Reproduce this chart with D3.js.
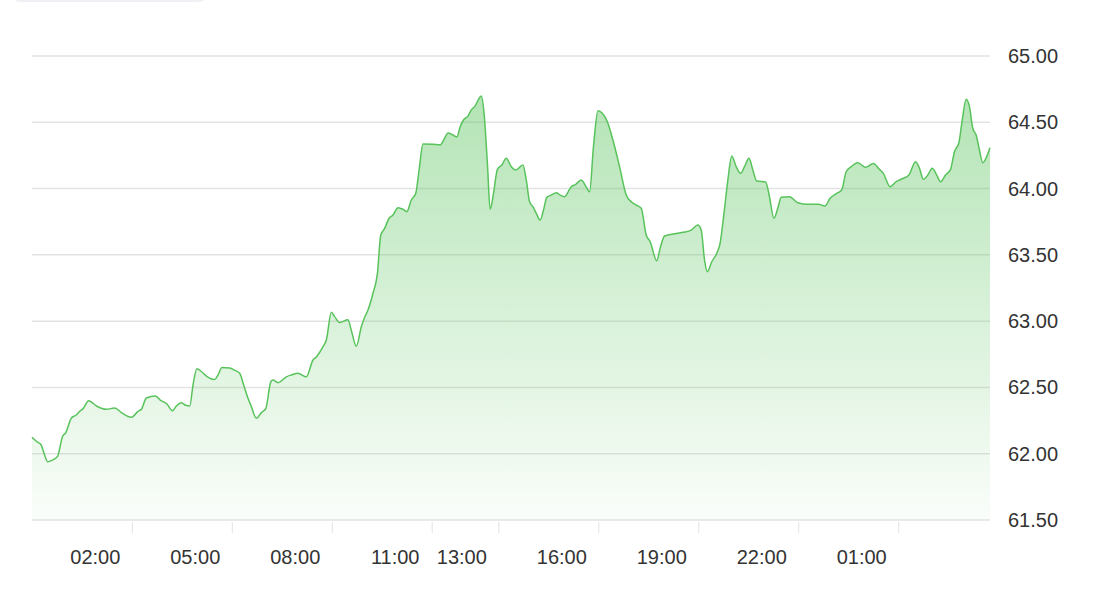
<!DOCTYPE html>
<html>
<head>
<meta charset="utf-8">
<script src="https://cdn.jsdelivr.net/npm/d3@7"></script>
<style>
  body { margin: 0; background: #fff; }
  text { font-family: "Liberation Sans", Arial, Helvetica, sans-serif; fill: #333; }
</style>
</head>
<body>
<div id="chart"></div>
<script>
// price series, times roll over midnight into the next day
const times = [
  "00:06","00:15","00:22","00:28","00:34","00:42","00:52","01:01","01:07","01:17",
  "01:25","01:32","01:38","01:48","02:02","02:20","02:35","02:47","03:05","03:17",
  "03:23","03:32","03:48","03:57","04:09","04:19","04:26","04:35","04:43","04:50",
  "04:56","05:03","05:11","05:20","05:35","05:41","05:48","06:02","06:11","06:20",
  "06:27","06:35","06:41","06:50","06:59","07:07","07:16","07:20","07:29","07:44",
  "07:53","08:05","08:20","08:32","08:38","08:50","08:56","09:05","09:11","09:20",
  "09:35","09:41","09:50","09:59","10:05","10:11","10:20","10:28","10:34","10:41",
  "10:49","10:56","11:05","11:14","11:21","11:29","11:37","11:43","11:50","12:08",
  "12:21","12:29","12:35","12:44","12:51","12:57","13:03","13:11","13:17","13:23",
  "13:35","13:40","13:46","13:51","13:57","14:04","14:12","14:20","14:29","14:37",
  "14:50","14:56","15:02","15:08","15:14","15:21","15:27","15:33","15:41","15:50",
  "15:57","16:05","16:17","16:25","16:35","16:43","16:50","16:57","17:05","17:13",
  "17:22","17:32","17:44","17:56","18:05","18:14","18:23","18:32","18:39","18:51",
  "18:57","19:05","19:20","19:38","19:53","20:05","20:11","20:17","20:22","20:30",
  "20:39","20:45","20:52","20:59","21:06","21:14","21:22","21:29","21:37","21:44",
  "21:51","22:07","22:13","22:22","22:29","22:35","22:50","23:05","23:23","23:42",
  "23:54","00:03","00:15","00:24","00:32","00:41","00:53","01:07","01:21","01:32",
  "01:39","01:51","02:02","02:11","02:25","02:37","02:44","02:51","02:59","03:07",
  "03:15","03:22","03:31","03:40","03:47","03:55","04:01","04:08","04:14","04:20",
  "04:26","04:32","04:38","04:45","04:51"
];
const prices = [
  62.124,62.09,62.07,62.00,61.94,61.95,61.98,62.13,62.16,62.27,
  62.29,62.32,62.34,62.40,62.36,62.335,62.345,62.31,62.275,62.32,
  62.335,62.42,62.435,62.405,62.375,62.325,62.36,62.385,62.365,62.36,
  62.52,62.64,62.62,62.586,62.56,62.594,62.65,62.647,62.63,62.607,
  62.52,62.418,62.355,62.267,62.31,62.34,62.543,62.556,62.536,62.58,
  62.594,62.607,62.58,62.707,62.73,62.807,62.858,63.067,63.034,62.99,
  63.01,62.93,62.81,62.958,63.03,63.084,63.21,63.36,63.65,63.70,
  63.776,63.80,63.856,63.844,63.826,63.914,63.964,64.14,64.336,64.334,
  64.33,64.38,64.42,64.404,64.39,64.467,64.517,64.547,64.593,64.618,
  64.698,64.568,64.19,63.844,63.964,64.145,64.178,64.228,64.165,64.14,
  64.178,64.065,63.90,63.863,63.813,63.763,63.838,63.934,63.951,63.969,
  63.951,63.939,64.014,64.032,64.065,64.019,63.976,64.316,64.587,64.568,
  64.504,64.366,64.165,63.951,63.90,63.876,63.851,63.65,63.60,63.456,
  63.549,63.642,63.657,63.67,63.687,63.725,63.687,63.461,63.373,63.448,
  63.512,63.587,63.813,64.065,64.246,64.165,64.115,64.165,64.228,64.14,
  64.057,64.05,63.959,63.776,63.853,63.934,63.939,63.893,63.881,63.881,
  63.869,63.927,63.964,63.989,64.127,64.165,64.195,64.16,64.19,64.145,
  64.115,64.014,64.052,64.07,64.102,64.203,64.153,64.07,64.102,64.153,
  64.102,64.052,64.102,64.145,64.278,64.346,64.517,64.673,64.618,64.455,
  64.404,64.291,64.195,64.241,64.308
];
const tickLabels = ["02:00","05:00","08:00","11:00","13:00","16:00","19:00","22:00","01:00"];
const yTicks = [61.5, 62.0, 62.5, 63.0, 63.5, 64.0, 64.5, 65.0];

const width = 1104, height = 610;
const margin = { top: 56, right: 114, bottom: 90, left: 32 };
const lineColor = "#58c35b";
const gridColor = "#e3e3e3";

// turn "HH:MM" strings into dates, adding a day each time the clock wraps
function toDates(list) {
  let day = 0, prev = -1;
  return list.map(s => {
    const [h, m] = s.split(":").map(Number);
    const mins = h * 60 + m;
    if (mins < prev) day++;
    prev = mins;
    return new Date(2024, 0, 1 + day, h, m);
  });
}

const dates = toDates(times);
const data = dates.map((d, i) => ({ date: d, value: prices[i] }));
const tickDates = toDates(tickLabels);

const svg = d3.select("#chart")
  .append("svg")
  .attr("width", width)
  .attr("height", height);

// bit of a tab poking in at the top left
svg.append("rect")
  .attr("x", 11).attr("y", -20)
  .attr("width", 197).attr("height", 22)
  .attr("rx", 9)
  .attr("fill", "#f0f0f4");

const x = d3.scaleTime()
  .domain(d3.extent(dates))
  .range([margin.left, width - margin.right]);

const y = d3.scaleLinear()
  .domain([61.5, 65.0])
  .range([height - margin.bottom, margin.top]);

const defs = svg.append("defs");
const grad = defs.append("linearGradient")
  .attr("id", "areaFill")
  .attr("gradientUnits", "userSpaceOnUse")
  .attr("x1", 0).attr("x2", 0)
  .attr("y1", y(64.7)).attr("y2", y(61.5));
grad.append("stop").attr("offset", "0%").attr("stop-color", lineColor).attr("stop-opacity", 0.45);
grad.append("stop").attr("offset", "100%").attr("stop-color", lineColor).attr("stop-opacity", 0.03);

// horizontal grid
svg.append("g")
  .selectAll("line")
  .data(yTicks)
  .enter().append("line")
  .attr("x1", margin.left)
  .attr("x2", width - margin.right)
  .attr("y1", d => y(d))
  .attr("y2", d => y(d))
  .attr("stroke", gridColor)
  .attr("stroke-width", 1.5);

// right side value labels
svg.append("g")
  .selectAll("text")
  .data(yTicks)
  .enter().append("text")
  .attr("x", width - margin.right + 18)
  .attr("y", d => y(d))
  .attr("dy", "0.35em")
  .style("font-size", "20px")
  .text(d => d3.format(".2f")(d));

const area = d3.area()
  .x(d => x(d.date))
  .y0(y(61.5))
  .y1(d => y(d.value))
  .curve(d3.curveMonotoneX);

const line = d3.line()
  .x(d => x(d.date))
  .y(d => y(d.value))
  .curve(d3.curveMonotoneX);

svg.append("path")
  .datum(data)
  .attr("d", area)
  .attr("fill", "url(#areaFill)");

svg.append("path")
  .datum(data)
  .attr("d", line)
  .attr("fill", "none")
  .attr("stroke", lineColor)
  .attr("stroke-width", 1.5);

// bottom axis: tick marks sit a little to the right of each label
const tickShift = 37;
const axis = svg.append("g");
axis.selectAll("line.tick")
  .data(tickDates)
  .enter().append("line")
  .classed("tick", true)
  .attr("x1", d => x(d) + tickShift)
  .attr("x2", d => x(d) + tickShift)
  .attr("y1", y(61.5) + 2)
  .attr("y2", y(61.5) + 13)
  .attr("stroke", gridColor)
  .attr("stroke-width", 1);

axis.selectAll("text")
  .data(tickDates)
  .enter().append("text")
  .attr("x", d => x(d))
  .attr("y", y(61.5) + 44)
  .attr("text-anchor", "middle")
  .style("font-size", "20px")
  .text(d => d3.timeFormat("%H:%M")(d));
</script>
</body>
</html>
